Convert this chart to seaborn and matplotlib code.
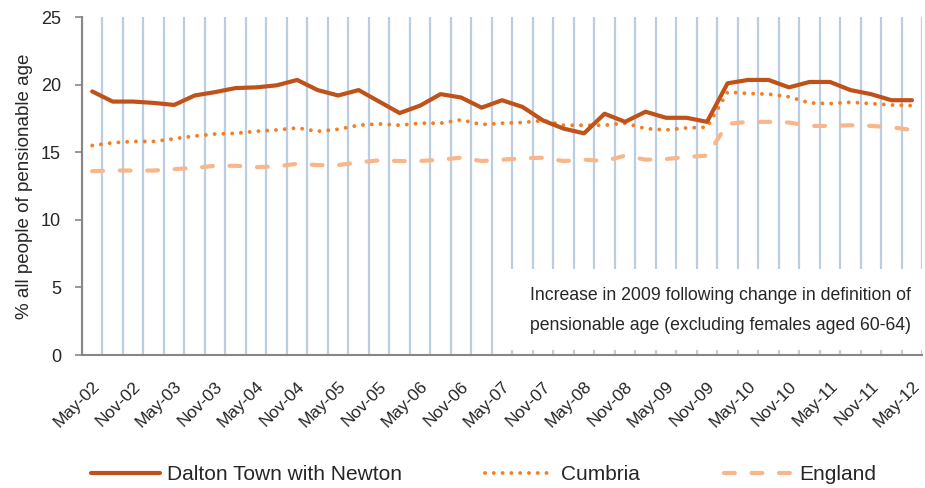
import pandas as pd
import seaborn as sns
import matplotlib.pyplot as plt
from matplotlib.patches import Rectangle

# quarterly values, May-02 .. May-12
dalton = [19.5, 18.75, 18.75, 18.65, 18.5, 19.2, 19.45, 19.75, 19.8, 19.95,
          20.35, 19.6, 19.2, 19.6, 18.75, 17.9, 18.45, 19.3, 19.05, 18.3,
          18.85, 18.35, 17.35, 16.75, 16.4, 17.85, 17.25, 18.0, 17.55, 17.55,
          17.25, 20.1, 20.35, 20.35, 19.8, 20.2, 20.2, 19.6, 19.3, 18.85, 18.85]
cumbria = [15.5, 15.7, 15.8, 15.8, 16.0, 16.2, 16.35, 16.4, 16.55, 16.65,
           16.8, 16.55, 16.7, 17.0, 17.1, 17.0, 17.15, 17.15, 17.4, 17.05,
           17.15, 17.2, 17.35, 17.0, 17.0, 17.0, 17.15, 16.75, 16.65, 16.8,
           16.85, 19.45, 19.35, 19.3, 19.1, 18.65, 18.6, 18.7, 18.6, 18.5, 18.45]
england = [13.6, 13.65, 13.65, 13.65, 13.75, 13.85, 14.0, 14.0, 13.9, 13.95,
           14.15, 14.05, 14.05, 14.25, 14.4, 14.35, 14.35, 14.45, 14.6, 14.35,
           14.45, 14.55, 14.6, 14.35, 14.45, 14.35, 14.75, 14.45, 14.5, 14.65,
           14.75, 17.1, 17.25, 17.25, 17.2, 16.95, 16.95, 17.0, 16.95, 16.85, 16.65]
tick_labels = ["May-02", "Nov-02", "May-03", "Nov-03", "May-04", "Nov-04", "May-05",
               "Nov-05", "May-06", "Nov-06", "May-07", "Nov-07", "May-08", "Nov-08",
               "May-09", "Nov-09", "May-10", "Nov-10", "May-11", "Nov-11", "May-12"]
series_names = ["Dalton Town with Newton", "Cumbria", "England"]

df = pd.DataFrame({"pos": range(len(dalton)), "dalton": dalton,
                   "cumbria": cumbria, "england": england})

sns.set_theme(style="white")
plt.rcParams["font.family"] = ["Liberation Sans", "DejaVu Sans"]

fig, ax = plt.subplots(figsize=(9.25, 4.88), dpi=100)
fig.subplots_adjust(left=0.0886, right=0.997, bottom=0.2725, top=0.965)

sns.lineplot(df, x="pos", y="dalton", color="#BF5218", linewidth=3.0,
             label=series_names[0], ax=ax, zorder=4)
sns.lineplot(df, x="pos", y="cumbria", color="#F57E22", linewidth=2.8,
             linestyle=(0, (0.01, 2.25)), label=series_names[1], ax=ax, zorder=3)
sns.lineplot(df, x="pos", y="england", color="#F8B68B", linewidth=3.0,
             linestyle=(0, (2.6, 4.0)), label=series_names[2], ax=ax, zorder=2)
for ln in ax.lines:
    ln.set_dash_capstyle("round")
    ln.set_solid_capstyle("round")

n = len(dalton)
ax.set_xlim(-0.5, n - 0.5)
ax.set_ylim(0, 25)
ax.set_yticks(range(0, 26, 5))
ax.set_xticks(range(0, n, 2))
ax.set_xticklabels(tick_labels, rotation=45, ha="right", rotation_mode="anchor")
ax.set_xticks([i - 0.5 for i in range(n + 1)], minor=True)
ax.tick_params(axis="x", which="major", length=0, pad=17, labelsize=12.5)
ax.tick_params(axis="x", which="minor", length=5, width=1.2, color="#868686", direction="out")
ax.tick_params(axis="y", length=5, width=1.2, color="#868686", direction="out",
               left=True, pad=10, labelsize=13)
ax.grid(axis="x", which="minor", color="#B9CDE5", linewidth=1.6)
ax.grid(axis="x", which="major", visible=False)
ax.grid(axis="y", visible=False)
ax.set_axisbelow(True)

for side in ["top", "right"]:
    ax.spines[side].set_visible(False)
for side in ["left", "bottom"]:
    ax.spines[side].set_color("#868686")
    ax.spines[side].set_linewidth(1.5)

ax.set_xlabel("")
ax.set_ylabel("% all people of pensionable age", fontsize=13.5, labelpad=6)

# white note box over the gridlines
ax.add_patch(Rectangle((19.75, 0.4), 22, 6.0, facecolor="white", edgecolor="none", zorder=1.5))
ax.text(21.35, 3.3, "Increase in 2009 following change in definition of\n"
        "pensionable age (excluding females aged 60-64)",
        fontsize=12.7, va="center", ha="left", linespacing=2.0, zorder=5)

handles, labels = ax.get_legend_handles_labels()
ax.get_legend().remove()
fig.legend(handles, labels, loc="center left", bbox_to_anchor=(0.087, 0.027),
           ncol=3, frameon=False, fontsize=15, handlelength=3.3,
           handletextpad=0.35, columnspacing=4.0, borderpad=0)

fig.savefig("out.png", dpi=100)
